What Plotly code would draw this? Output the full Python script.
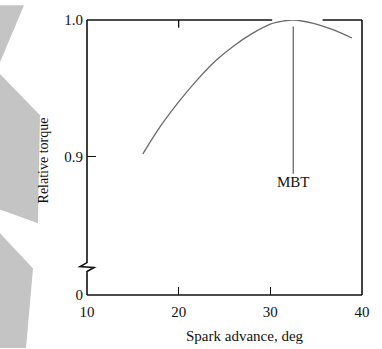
import plotly.graph_objects as go

# Data
spark_advance = [16.1, 18.0, 20.0, 22.0, 24.0, 26.0, 28.0, 30.0, 31.5, 32.5, 34.7, 36.9, 38.9]
relative_torque = [0.902, 0.922, 0.940, 0.956, 0.970, 0.981, 0.990, 0.997, 0.9994, 1.000, 0.9976, 0.9928, 0.9868]
mbt_x = [32.5, 32.5]
mbt_y = [0.8873, 0.9952]
x_tickvals = [10, 20, 30, 40]
x_ticktext = ["10", "20", "30", "40"]
y_break_bottom = 0.79856  # axis break: bottom of frame is labelled 0
y_tickvals = [y_break_bottom, 0.9, 1.0]
y_ticktext = ["0", "0.9", "1.0"]

W, H = 382, 349
L, R, T, B = 87, 20, 15, 54
pw, ph = W - L - R, H - T - B

def px(x):
    return (x - L) / pw

def py(y):
    return (H - B - y) / ph

font = "Liberation Serif, Times New Roman, serif"
ink = "#111111"

fig = go.Figure()
fig.add_trace(go.Scatter(x=spark_advance, y=relative_torque, mode="lines",
                         line=dict(color="#6a6a6a", width=1.3, shape="spline", smoothing=1.0),
                         hoverinfo="skip", showlegend=False))
fig.add_trace(go.Scatter(x=mbt_x, y=mbt_y, mode="lines",
                         line=dict(color="#6a6a6a", width=1.3),
                         hoverinfo="skip", showlegend=False))

frame = dict(color=ink, width=1.6)
shapes = [
    dict(type="line", xref="paper", yref="paper", x0=0, x1=1, y0=0, y1=0, line=frame),
    dict(type="line", xref="paper", yref="paper", x0=1, x1=1, y0=0, y1=1, line=frame),
    dict(type="line", xref="paper", yref="paper", x0=0, x1=(30.2 - 10) / 30, y0=1, y1=1, line=frame),
    dict(type="line", xref="paper", yref="paper", x0=(35.7 - 10) / 30, x1=1, y0=1, y1=1, line=frame),
    dict(type="line", xref="x", yref="paper", x0=20, x1=20, y0=1, y1=1 - 8 / ph,
         line=dict(color=ink, width=1.3)),
    dict(type="path", xref="paper", yref="paper",
         path=f"M {px(87)},{py(15)} L {px(87)},{py(262)} L {px(80)},{py(266)} "
              f"L {px(94)},{py(267)} L {px(87)},{py(271)} L {px(87)},{py(295)}",
         line=frame),
]
gray = "#c4c4c4"
polys = [
    [(0, 0), (24, 0), (0, 58)],
    [(0, 70), (40, 112), (38, 222), (0, 208)],
    [(0, 232), (33, 268), (26, 349), (0, 349)],
]
for poly in polys:
    d = "M " + " L ".join(f"{px(a)},{py(b)}" for a, b in poly) + " Z"
    shapes.append(dict(type="path", xref="paper", yref="paper", path=d,
                       fillcolor=gray, line=dict(width=0), layer="below"))

annotations = [
    dict(text="MBT", x=32.5, y=0.8815, xref="x", yref="y", showarrow=False,
         font=dict(family=font, size=15, color=ink), xanchor="center", yanchor="middle"),
    dict(text="Spark advance, deg", x=px(245), y=py(337), xref="paper", yref="paper", showarrow=False,
         font=dict(family=font, size=15, color=ink), xanchor="center", yanchor="middle"),
    dict(text="Relative torque", x=px(43), y=py(158), xref="paper", yref="paper", showarrow=False,
         textangle=-90, font=dict(family=font, size=14, color=ink), xanchor="center", yanchor="middle"),
]

fig.update_layout(
    width=W, height=H,
    margin=dict(l=L, r=R, t=T, b=B, pad=0),
    paper_bgcolor="white", plot_bgcolor="white",
    shapes=shapes, annotations=annotations,
    xaxis=dict(range=[10, 40], tickvals=x_tickvals, ticktext=x_ticktext,
               ticks="inside", ticklen=8, tickwidth=1.3, tickcolor=ink,
               showgrid=False, zeroline=False, showline=False,
               tickfont=dict(family=font, size=15, color=ink), ticklabelstandoff=6),
    yaxis=dict(range=[y_break_bottom, 1.0], tickvals=y_tickvals, ticktext=y_ticktext,
               ticks="inside", ticklen=9, tickwidth=1.3, tickcolor=ink,
               showgrid=False, zeroline=False, showline=False,
               tickfont=dict(family=font, size=15, color=ink), ticklabelstandoff=3),
)

fig.write_html("out.html")
